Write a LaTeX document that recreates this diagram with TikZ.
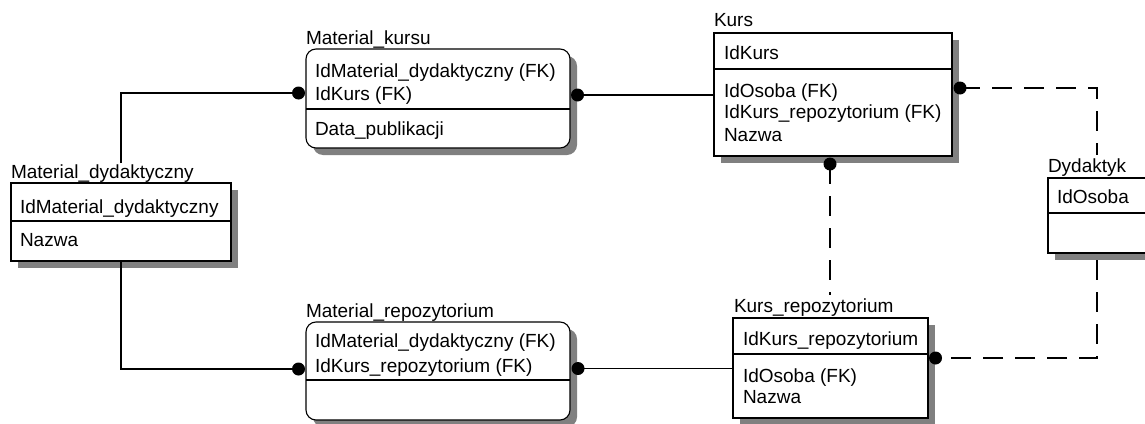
\documentclass[tikz,border=0pt]{standalone}
\usepackage{fontspec}
\setmainfont{Liberation Sans}
\usetikzlibrary{backgrounds}
\begin{document}
\begin{tikzpicture}[x=1pt,y=-1pt, line width=1.1pt,
  ent/.style={draw=black, fill=white, inner sep=0pt, outer sep=0pt},
  rent/.style={ent, rounded corners=10pt},
  shad/.style={fill=black!50, draw=none},
  ttl/.style={anchor=base west, inner sep=0pt, outer sep=0pt, font=\fontsize{19}{22}\selectfont},
  att/.style={ttl},
  dotn/.style={circle, fill=black, draw=none, inner sep=0pt, minimum size=13pt},
  rel/.style={draw=black, line width=1.1pt},
  drel/.style={rel, dash pattern=on 20pt off 12pt}]
\useasboundingbox (0,0) rectangle (1145,423);

% entity boxes
\node[ent,  minimum width=220pt, minimum height=78pt]  (md) at (121,222) {};
\node[rent, minimum width=264pt, minimum height=99pt]  (mk) at (438,98.5) {};
\node[ent,  minimum width=238pt, minimum height=123pt] (k)  at (833,94.5) {};
\node[ent,  minimum width=122pt, minimum height=75pt]  (d)  at (1109,215.5) {};
\node[rent, minimum width=264pt, minimum height=98pt]  (mr) at (438,371) {};
\node[ent,  minimum width=195pt, minimum height=100pt] (kr) at (830.5,368) {};

% shadows
\begin{scope}[on background layer]
\fill[shad] ([shift={(7pt,-7pt)}]md.south west) rectangle ([shift={(7pt,-7pt)}]md.north east);
\fill[shad, rounded corners=10pt] ([shift={(7pt,-7pt)}]mk.south west) rectangle ([shift={(7pt,-7pt)}]mk.north east);
\fill[shad] ([shift={(7pt,-7pt)}]k.south west) rectangle ([shift={(7pt,-7pt)}]k.north east);
\fill[shad] ([shift={(7pt,-7pt)}]d.south west) rectangle ([shift={(7pt,-7pt)}]d.north east);
\fill[shad, rounded corners=10pt] ([shift={(7pt,-7pt)}]mr.south west) rectangle ([shift={(7pt,-7pt)}]mr.north east);
\fill[shad] ([shift={(7pt,-7pt)}]kr.south west) rectangle ([shift={(7pt,-7pt)}]kr.north east);
\end{scope}

% dividers
\draw (md.west |- 0,221) -- (md.east |- 0,221);
\draw (mk.west |- 0,109) -- (mk.east |- 0,109);
\draw (k.west |- 0,69) -- (k.east |- 0,69);
\draw (d.west |- 0,213) -- (d.east |- 0,213);
\draw (mr.west |- 0,380) -- (mr.east |- 0,380);
\draw (kr.west |- 0,354) -- (kr.east |- 0,354);

% titles
\node[ttl] (mdT) at (11,178)   {Material\_dydaktyczny};
\node[ttl] (mkT) at (306,44)   {Material\_kursu};
\node[ttl] (kT)  at (714,27)   {Kurs};
\node[ttl] (dT)  at (1048,172) {Dydaktyk};
\node[ttl] (mrT) at (306,317)  {Material\_repozytorium};
\node[ttl] (krT) at (734,312)  {Kurs\_repozytorium};

% attributes
\node[att] (md1) at (20,213)  {IdMaterial\_dydaktyczny};
\node[att] (md2) at (20,246)  {Nazwa};
\node[att] (mk1) at (315,77)  {IdMaterial\_dydaktyczny (FK)};
\node[att] (mk2) at (315,100) {IdKurs (FK)};
\node[att] (mk3) at (315,135) {Data\_publikacji};
\node[att] (k1)  at (724,59)  {IdKurs};
\node[att] (k2)  at (724,97)  {IdOsoba (FK)};
\node[att] (k3)  at (724,118.5) {IdKurs\_repozytorium (FK)};
\node[att] (k4)  at (724,141) {Nazwa};
\node[att] (d1a) at (1057,203) {IdOsoba};
\node[att] (mr1) at (315,347) {IdMaterial\_dydaktyczny (FK)};
\node[att] (mr2) at (315,372) {IdKurs\_repozytorium (FK)};
\node[att] (kr1) at (743,345) {IdKurs\_repozytorium};
\node[att] (kr2) at (743,382) {IdOsoba (FK)};
\node[att] (kr3) at (743,403) {Nazwa};

% connector end points
\coordinate (mdtop) at (121,163);
\coordinate (dtop) at (1097,155);
\coordinate (dbot) at (1097,260);
\coordinate (krtop) at (830,295);
\coordinate (p1) at (298.5,93);
\coordinate (p2) at (298.5,369);
\coordinate (p3) at (577.5,95);
\coordinate (p4) at (578,368.5);
\coordinate (p5) at (960,88);
\coordinate (p6) at (830,164);
\coordinate (p7) at (935.5,358);

% connectors
\draw[rel] (mdtop) |- (p1);
\draw[rel] (md.south) |- (p2);
\draw[rel] (p3) -- (k.west |- p3);
\draw[rel] (p4) -- (kr.west |- p4);
\draw[drel] (p5) -| (dtop);
\draw[drel] (dbot) |- (p7);
\draw[drel] (p6) -- (krtop);

% dots
\node[dotn] (c1) at (p1) {};
\node[dotn] (c2) at (p2) {};
\node[dotn] (c3) at (p3) {};
\node[dotn] (c4) at (p4) {};
\node[dotn] (c5) at (p5) {};
\node[dotn] (c6) at (p6) {};
\node[dotn] (c7) at (p7) {};
\end{tikzpicture}
\end{document}
